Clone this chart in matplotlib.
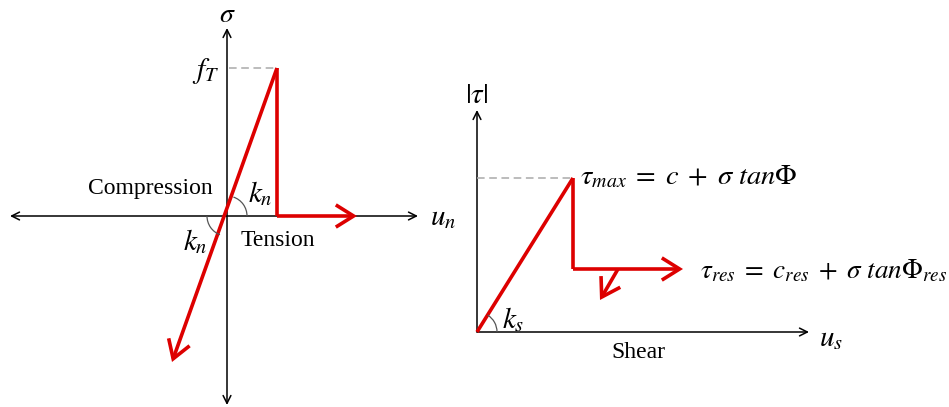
import matplotlib.pyplot as plt
from matplotlib.patches import Arc, FancyArrowPatch
import numpy as np

plt.rcParams['mathtext.fontset'] = 'stix'
plt.rcParams['font.family'] = 'Liberation Serif'

RED = '#dd0000'
GREY = '#aaaaaa'

# normal behaviour (u_n, sigma): elastic branch through origin, brittle drop at f_T
normal_elastic_u = [-1.1, 1.0]
normal_elastic_s = [-2.92, 2.96]
normal_drop_u = [1.0, 1.0, 2.6]
normal_drop_s = [2.96, 0.0, 0.0]
f_T = 2.96

# shear behaviour (u_s, |tau|): peak tau_max then residual tau_res
shear_elastic_u = [0.0, 1.92]
shear_elastic_t = [0.0, 3.08]
shear_drop_u = [1.92, 1.92, 4.12]
shear_drop_t = [3.08, 1.26, 1.26]
shear_soft_u = [2.82, 2.46]
shear_soft_t = [1.26, 0.64]
tau_max = 3.08

fig = plt.figure(figsize=(9.49, 4.07), dpi=100)


def axis_arrow(ax, p0, p1, style):
    ax.add_patch(FancyArrowPatch(p0, p1, arrowstyle=style, mutation_scale=14,
                                 color='black', lw=1.1, shrinkA=0, shrinkB=0))


def red_path(ax, xs, ys, head=True):
    pts = list(zip(xs, ys))
    if len(pts) > 2:
        ax.plot([p[0] for p in pts[:-1]], [p[1] for p in pts[:-1]],
                color=RED, lw=2.6, solid_joinstyle='miter', solid_capstyle='butt')
    style = '->,head_length=0.8,head_width=0.5' if head else '-'
    ax.add_patch(FancyArrowPatch(pts[-2], pts[-1], arrowstyle=style, mutation_scale=16,
                                 color=RED, lw=2.6, shrinkA=0, shrinkB=0,
                                 joinstyle='miter', capstyle='butt'))


# ---- left: normal / tension-compression ----
axL = fig.add_axes([0, 0, 440 / 949, 1])
axL.set_xlim(-4.54, 4.26)
axL.set_ylim(-3.82, 4.32)
axL.axis('off')

axis_arrow(axL, (-4.34, 0), (3.82, 0), '<->')
axis_arrow(axL, (0, -3.78), (0, 3.76), '<->')
axL.plot([0.05, normal_drop_u[0]], [f_T, f_T], color=GREY, lw=1.1, ls=(0, (5, 3)))

red_path(axL, normal_elastic_u[::-1], normal_elastic_s[::-1])
red_path(axL, normal_drop_u, normal_drop_s)

ang = np.degrees(np.arctan2(normal_elastic_s[1], normal_elastic_u[1]))
ang_lo = np.degrees(np.arctan2(normal_elastic_s[0], normal_elastic_u[0])) % 360
axL.add_patch(Arc((0, 0), 0.8, 0.8, theta1=0, theta2=ang, color='#555555', lw=0.9))
axL.add_patch(Arc((0, 0), 0.8, 0.8, theta1=180, theta2=ang_lo, color='#555555', lw=0.9))

axL.text(0, 4.02, r'$\sigma$', fontsize=20, ha='center', va='center')
axL.text(-0.16, f_T - 0.05, r'$f_T$', fontsize=21, ha='right', va='center')
axL.text(-1.54, 0.56, 'Compression', fontsize=17, ha='center', va='center')
axL.text(1.02, -0.48, 'Tension', fontsize=17, ha='center', va='center')
axL.text(0.66, 0.44, r'$k_n$', fontsize=21, ha='center', va='center')
axL.text(-0.64, -0.52, r'$k_n$', fontsize=21, ha='center', va='center')
axL.text(4.06, -0.04, r'$u_n$', fontsize=21, ha='left', va='center')

# ---- right: shear ----
axR = fig.add_axes([440 / 949, 0, 509 / 949, 1])
axR.set_xlim(-0.74, 9.44)
axR.set_ylim(-1.5, 6.64)
axR.axis('off')

axis_arrow(axR, (0, 0), (6.64, 0), '->')
axis_arrow(axR, (0, 0), (0, 4.44), '->')
axR.plot([0, shear_drop_u[0]], [tau_max, tau_max], color=GREY, lw=1.1, ls=(0, (5, 3)))

red_path(axR, shear_elastic_u, shear_elastic_t, head=False)
red_path(axR, shear_drop_u, shear_drop_t)
red_path(axR, shear_soft_u, shear_soft_t)

ang_s = np.degrees(np.arctan2(shear_elastic_t[1], shear_elastic_u[1]))
axR.add_patch(Arc((0, 0), 0.8, 0.8, theta1=0, theta2=ang_s, color='#555555', lw=0.9))

axR.text(0, 4.72, r'$|\tau|$', fontsize=21, ha='center', va='center')
axR.text(2.06, tau_max + 0.02,
         r'$\tau_{max}\;=\;c\;+\;\sigma\ tan\Phi$', fontsize=20.5,
         ha='left', va='center')
axR.text(4.46, 1.22,
         r'$\tau_{res}\;=\;c_{res}\;+\;\sigma\ tan\Phi_{res}$', fontsize=19.5,
         ha='left', va='center')
axR.text(0.5, 0.24, r'$k_s$', fontsize=21, ha='left', va='center')
axR.text(3.22, -0.42, 'Shear', fontsize=17, ha='center', va='center')
axR.text(6.84, -0.14, r'$u_s$', fontsize=21, ha='left', va='center')

fig.savefig('out.png', dpi=100)
